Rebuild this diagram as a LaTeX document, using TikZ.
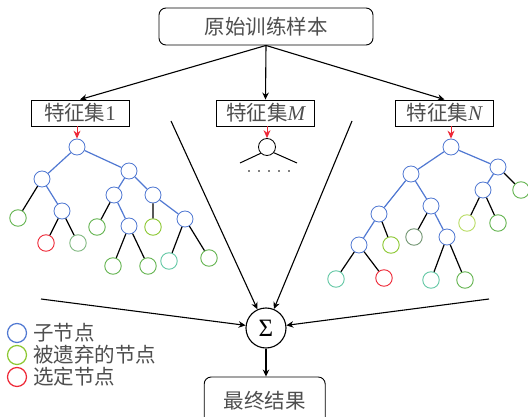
\documentclass[tikz,border=0pt]{standalone}
\usepackage{fontspec}
\newfontfamily\cjk{Noto Sans CJK SC}
\newfontfamily\tms{Liberation Serif}
\usetikzlibrary{arrows.meta}
\definecolor{tblue}{RGB}{80,120,210}
\definecolor{tgreen}{RGB}{100,180,80}
\definecolor{tlgreen}{RGB}{130,185,130}
\definecolor{tlime}{RGB}{140,200,50}
\definecolor{tyg}{RGB}{185,220,100}
\definecolor{tteal}{RGB}{100,200,165}
\definecolor{tred}{RGB}{238,40,55}
\definecolor{tgg}{RGB}{115,150,115}
\definecolor{txt}{RGB}{78,78,78}
\begin{document}
\begin{tikzpicture}[x=1pt,y=-1pt,
  tn/.style={circle,draw=tblue,fill=white,minimum size=16pt,inner sep=0pt,line width=0.8pt},
  lf/.style={circle,draw=#1,fill=white,minimum size=16.5pt,inner sep=0pt,line width=0.9pt},
  be/.style={draw=tblue,line width=1.2pt},
  ke/.style={draw=black,line width=1.2pt},
  arr/.style={draw=black,line width=1.1pt,-{Stealth[length=7pt,width=6.5pt]}},
  rarr/.style={draw=tred,line width=1pt,-{Stealth[length=8pt,width=7pt]}},
  cjkt/.style={font=\fontsize{20.5}{22}\selectfont\cjk,text=txt},
  fbox/.style={draw=black,line width=0.9pt,fill=white,minimum width=98pt,minimum height=26pt,inner sep=0pt,cjkt},
  rbox/.style={draw=black,line width=0.9pt,fill=white,rounded corners=7pt,inner sep=0pt,cjkt},
  lg/.style={circle,draw=#1,minimum size=19pt,inner sep=0pt,line width=1.2pt}
]
\useasboundingbox (0,0) rectangle (528,417);
\fill[white] (0,0) rectangle (528,417);

% top and feature boxes
\node[rbox,minimum width=214pt,minimum height=37pt] (top) at (266,26.5) {原始训练样本};
\node[fbox] (f1) at (80,113) {特征集{\tms\fontsize{21}{22}\selectfont 1}};
\node[fbox] (fM) at (265.5,113) {特征集{\tms\itshape\fontsize{21}{22}\selectfont M}};
\node[fbox] (fN) at (444.5,113) {特征集{\tms\itshape\fontsize{21}{22}\selectfont N}};
\draw[arr] (top.south) -- (f1.north);
\draw[arr] (top.south) -- (fM.north);
\draw[arr] (top.south) -- (fN.north);

% left tree
\node[tn] (L0) at (77,147) {};
\node[tn] (L1) at (42,179) {};
\node[tn] (L2) at (129,171) {};
\node[lf=tgreen] (L3) at (18,218) {};
\node[tn] (L4) at (62,211) {};
\node[lf=tred] (L5) at (46,243) {};
\node[lf=tlgreen] (L6) at (78,243) {};
\node[tn] (L7) at (114,195) {};
\node[tn] (L8) at (153,195) {};
\node[lf=tgreen] (L9) at (97,227) {};
\node[tn] (L10) at (129,226) {};
\node[lf=tgreen] (L11) at (113,266) {};
\node[lf=tgreen] (L12) at (148,266) {};
\node[lf=tlime] (L13) at (153,227) {};
\node[tn] (L14) at (185,219) {};
\node[lf=tteal] (L15) at (169,261) {};
\node[lf=tgreen] (L16) at (209,258) {};
\draw[be] (L0)--(L1) (L0)--(L2) (L1)--(L4) (L2)--(L7) (L2)--(L8) (L7)--(L10) (L8)--(L14);
\draw[ke] (L1)--(L3) (L4)--(L5) (L4)--(L6) (L7)--(L9) (L10)--(L11) (L10)--(L12) (L8)--(L13) (L14)--(L15) (L14)--(L16);
\draw[rarr] (f1.south -| L0) -- (L0.north);

% middle tree
\node[circle,draw=black,fill=white,minimum size=17pt,inner sep=0pt,line width=0.8pt] (M0) at (267,147) {};
\coordinate (mL) at (240,163);
\coordinate (mR) at (297,163);
\draw[ke,line width=1pt] (M0.225) -- (mL);
\draw[ke,line width=1pt] (M0.-40) -- (mR);
\foreach \xx in {249,259,269,279,289} \fill (\xx,171) circle (0.8pt);
\draw[rarr] (fM.south -| M0) -- (M0.north);

% right tree
\node[tn] (R0) at (451,147) {};
\node[tn] (R1) at (411,174) {};
\node[tn] (R2) at (498,167) {};
\node[tn] (R3) at (483,190) {};
\node[lf=tgreen] (R4) at (521,190) {};
\node[lf=tyg] (R5) at (467,223) {};
\node[lf=tgreen] (R6) at (498,223) {};
\node[tn] (R7) at (379,214) {};
\node[tn] (R8) at (431,206) {};
\node[lf=tgg] (R9) at (414,237) {};
\node[tn] (R10) at (447,237) {};
\node[lf=tteal] (R11) at (431,280) {};
\node[lf=tgreen] (R12) at (465,280) {};
\node[tn] (R13) at (359,245) {};
\node[lf=tlime] (R14) at (391,245) {};
\node[lf=tteal] (R15) at (336,279) {};
\node[lf=tred] (R16) at (384,278) {};
\draw[be] (R0)--(R1) (R0)--(R2) (R2)--(R3) (R1)--(R7) (R1)--(R8) (R8)--(R10) (R7)--(R13);
\draw[ke] (R2)--(R4) (R3)--(R5) (R3)--(R6) (R8)--(R9) (R10)--(R11) (R10)--(R12) (R7)--(R14) (R13)--(R15) (R13)--(R16);
\draw[rarr] (fN.south -| R0) -- (R0.north);

% sum
\node[circle,draw=black,fill=white,minimum size=40pt,inner sep=0pt,line width=1.1pt,font=\fontsize{25}{25}\selectfont\tms] (S) at (266,328) {Σ};
\coordinate (cL) at (41,299);
\coordinate (cR) at (489,299);
\coordinate (cUL) at (171,121);
\coordinate (cUR) at (352,121);
\draw[arr] (cL) -- (S);
\draw[arr] (cR) -- (S);
\draw[arr] (cUL) -- (S);
\draw[arr] (cUR) -- (S);
\node[rbox,minimum width=121pt,minimum height=48pt] (fin) at (264.7,401) {最终结果};
\draw[arr] (S.south) -- (fin.north -| S);

% legend
\node[lg=tblue] (g1) at (17,333) {};
\node[lg=tlime] (g2) at (17,355) {};
\node[lg=tred] (g3) at (17,377) {};
\node[cjkt,anchor=west,inner sep=0pt] (t1) at (33,333) {子节点};
\node[cjkt,anchor=west,inner sep=0pt] (t2) at (33,355) {被遗弃的节点};
\node[cjkt,anchor=west,inner sep=0pt] (t3) at (33,377) {选定节点};
\end{tikzpicture}
\end{document}
